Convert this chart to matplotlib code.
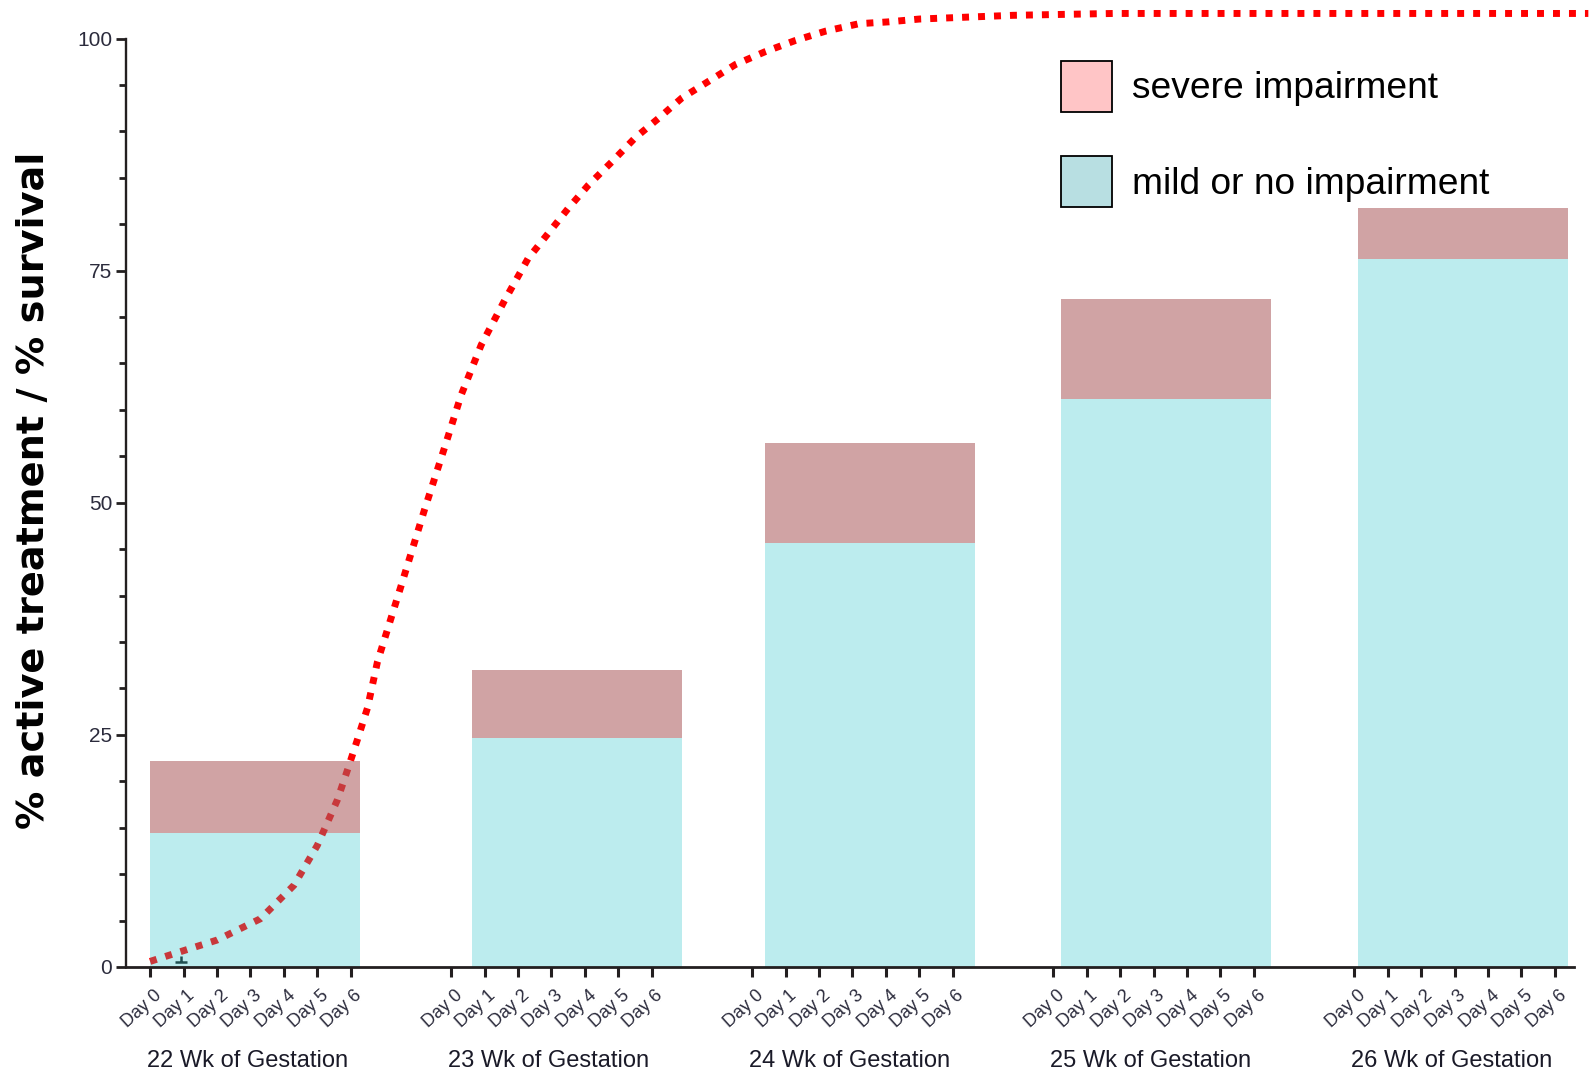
import matplotlib
matplotlib.use('Agg')
import matplotlib.pyplot as plt
from matplotlib.patches import Patch
from matplotlib.path import Path
from matplotlib.ticker import MultipleLocator, FixedLocator
import matplotlib.transforms as mtransforms

# data
weeks = ['22 Wk of Gestation', '23 Wk of Gestation', '24 Wk of Gestation',
         '25 Wk of Gestation', '26 Wk of Gestation']
days = ['Day 0', 'Day 1', 'Day 2', 'Day 3', 'Day 4', 'Day 5', 'Day 6']
mild = [14.4, 24.7, 45.7, 61.2, 76.3]
total = [22.2, 32.0, 56.4, 71.9, 81.8]
severe = [t - m for t, m in zip(total, mild)]

# active treatment curve (x in day units along the axis, y in %)
curve_x = [0.0, 0.6, 2.0, 3.3, 4.3, 5.0, 5.6, 5.9, 6.2, 6.5, 6.8, 7.5, 8.2,
           8.8, 9.3, 9.9, 10.6, 11.3, 11.9, 12.5, 13.1, 13.8, 14.5, 15.2,
           15.9, 16.7, 17.5, 18.4, 19.3, 20.2, 21.2, 22.1, 23.0, 25.8, 28.8,
           43.0]
curve_y = [0.6, 1.3, 2.9, 5.2, 8.8, 13.1, 18.0, 21.2, 24.5, 27.9, 32.9, 41.0,
           49.2, 55.9, 61.6, 67.0, 71.8, 76.3, 79.0, 81.7, 84.2, 86.7, 89.3,
           91.4, 93.6, 95.4, 97.2, 98.6, 99.8, 100.8, 101.6, 101.8, 102.1,
           102.5, 102.7, 102.7]

# small error mark near day 1 of week 22
err_x = [0.92]
err_y = [0.54]

# layout
group_step = 9
bar_left = [0.0, 9.63, 18.38, 27.23, 36.11]
bar_w = 6.28

narrow = ['Liberation Sans Narrow', 'Liberation Sans', 'DejaVu Sans']
axcol = '#231f20'
mild_col = '#bcecee'
sev_col = '#d0a3a4'

fig = plt.figure(figsize=(15.89, 10.77), dpi=100)
ax = fig.add_axes([126 / 1589, 110 / 1077, 1463 / 1589, 967 / 1077])
ax.set_xlim(-0.72, 43.02)
ax.set_ylim(0, 104.15)

ax.plot(curve_x, curve_y, color='#ff0000', lw=5, ls=(0, (1, 1.3)),
        dash_capstyle='butt', zorder=1, clip_on=False)

b1 = ax.bar(bar_left, mild, width=bar_w, align='edge', color=mild_col,
            linewidth=0, zorder=2)
b2 = ax.bar(bar_left, severe, bottom=mild, width=bar_w, align='edge',
            color=sev_col, linewidth=0, zorder=2)

# the curve shows darker where it runs under the first bar
for patch in (b1.patches[0], b2.patches[0]):
    ln, = ax.plot(curve_x, curve_y, color='#c8383b', lw=5, ls=(0, (1, 1.3)),
                  dash_capstyle='butt', zorder=3)
    ln.set_clip_path(patch)

perp = Path([(-0.5, 0), (0.5, 0), (0, 0), (0, 0.45)],
            [Path.MOVETO, Path.LINETO, Path.MOVETO, Path.LINETO])
ax.plot(err_x, err_y, ls='none', marker=perp, markersize=9,
        markeredgecolor='#1f4f51', markeredgewidth=1.8, zorder=4)

# axes styling
for s in ('top', 'right'):
    ax.spines[s].set_visible(False)
ax.spines['left'].set_bounds(0, 100)
ax.spines['left'].set_linewidth(1.7)
ax.spines['bottom'].set_bounds(-0.72, 42.56)
ax.spines['bottom'].set_linewidth(2.0)
ax.spines['left'].set_color(axcol)
ax.spines['bottom'].set_color(axcol)

ax.yaxis.set_major_locator(FixedLocator([0, 25, 50, 75, 100]))
ax.yaxis.set_minor_locator(MultipleLocator(5))
ax.tick_params(axis='y', which='major', length=7, width=2, color=axcol,
               pad=3, labelsize=15, labelcolor='#2b2b3c')
ax.tick_params(axis='y', which='minor', length=5, width=2, color=axcol)
for t in ax.get_yticklabels():
    t.set_family(narrow)

xt = [g * group_step + d for g in range(len(weeks)) for d in range(len(days))]
ax.set_xticks(xt)
ax.set_xticklabels(days * len(weeks), rotation=42, ha='right', va='center',
                   rotation_mode='anchor', family=narrow, fontsize=13,
                   color='#2b2b3c')
ax.tick_params(axis='x', length=7, width=2.2, color=axcol, pad=2)
off = mtransforms.ScaledTranslation(9 / 100, -14 / 100, fig.dpi_scale_trans)
for t in ax.get_xticklabels():
    t.set_transform(t.get_transform() + off)

week_tr = mtransforms.blended_transform_factory(ax.transData, fig.transFigure)
for g, w in enumerate(weeks):
    ax.text(g * group_step + 2.9, 1 - 1061 / 1077, w, transform=week_tr,
            ha='center', va='center', family=narrow, fontsize=17,
            color='#1a1a28')

fig.text(34.5 / 1589, 1 - 490 / 1077, '% active treatment / % survival',
         rotation=90, ha='center', va='center', fontsize=27.5,
         fontweight='bold', family='DejaVu Sans')

handles = [Patch(facecolor='#ffc5c6', edgecolor='black', lw=1.3, label='severe impairment'),
           Patch(facecolor='#b8dfe2', edgecolor='black', lw=1.3, label='mild or no impairment')]
ax.legend(handles=handles, loc='upper left', bbox_to_anchor=(1061 / 1589, 1 - 61 / 1077),
          bbox_transform=fig.transFigure, frameon=False,
          prop={'family': 'Liberation Sans', 'size': 26.7},
          handlelength=1.375, handleheight=1.72, handletextpad=0.54,
          labelspacing=1.21, borderpad=0, borderaxespad=0)

fig.savefig('out.png', dpi=100)
